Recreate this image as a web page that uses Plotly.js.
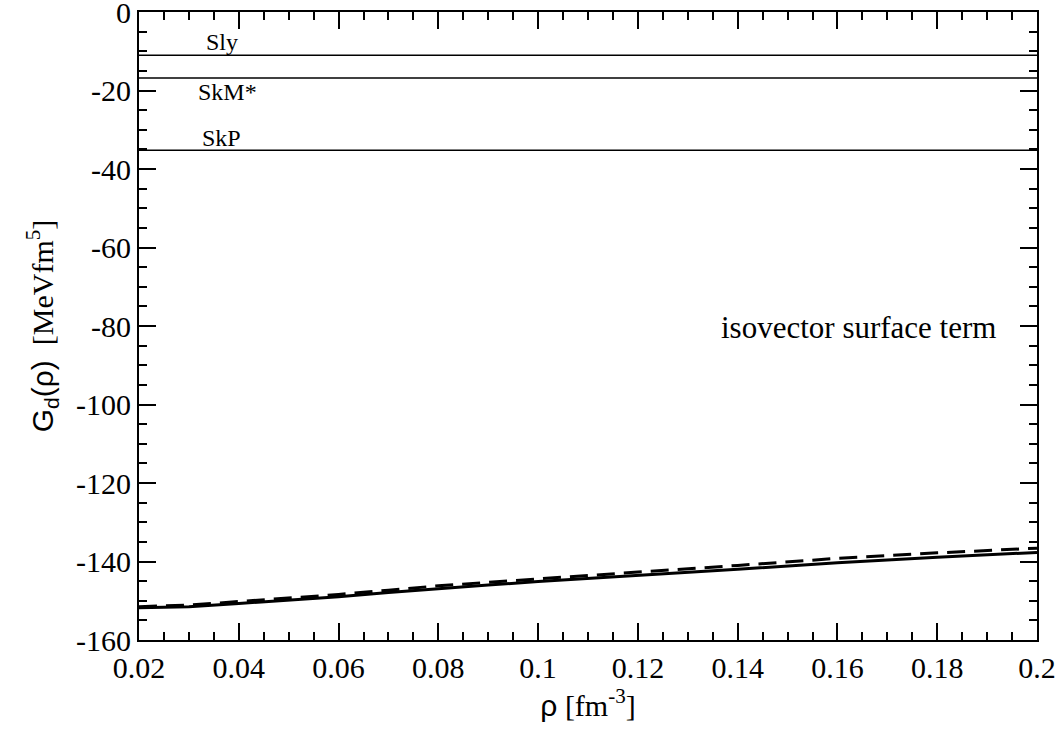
<!DOCTYPE html>
<html>
<head>
<meta charset="utf-8">
<script src="https://cdn.plot.ly/plotly-3.0.1.min.js"></script>
<style>html,body{margin:0;padding:0;background:#fff;}#chart{width:1064px;height:731px;}</style>
</head>
<body>
<div id="chart"></div>
<script>
// density rho [fm^-3]
const rho = [0.02, 0.03, 0.04, 0.05, 0.06, 0.07, 0.08, 0.09, 0.10, 0.12, 0.14, 0.16, 0.18, 0.20];
// G_d(rho) solid curve
const gdSolid = [-151.8, -151.5, -150.7, -149.8, -149.0, -147.9, -146.9, -146.0, -145.1, -143.6, -142.0, -140.3, -138.9, -137.7];
// G_d(rho) dashed curve
const gdDashed = [-151.5, -151.1, -150.2, -149.3, -148.4, -147.3, -146.2, -145.3, -144.4, -142.7, -141.0, -139.2, -137.8, -136.6];
// Skyrme constant values
const skyrmeNames = ["Sly", "SkM*", "SkP"];
const skyrmeValues = [-11.0, -16.8, -35.2];
const skyrmeLabelX = [0.0366, 0.0378, 0.0366];
const skyrmeLabelY = [-7.6, -20.4, -32.1];
const xRange = [0.02, 0.2];
const yRange = [-160, 0];
// tick labels
const xTickVals = [0.02, 0.04, 0.06, 0.08, 0.1, 0.12, 0.14, 0.16, 0.18, 0.2];
const xTickText = ["0.02", "0.04", "0.06", "0.08", "0.1", "0.12", "0.14", "0.16", "0.18", "0.2"];
const yTickVals = [0, -20, -40, -60, -80, -100, -120, -140, -160];
const yTickText = ["0", "-20", "-40", "-60", "-80", "-100", "-120", "-140", "-160"];

const serif = "Liberation Serif";
const traces = [];
skyrmeValues.forEach((v, i) => {
  traces.push({x: xRange, y: [v, v], mode: "lines", line: {color: "#000", width: 1.5}, showlegend: false, hoverinfo: "skip"});
});
traces.push({x: rho, y: gdSolid, mode: "lines", line: {color: "#000", width: 3}, showlegend: false});
traces.push({x: rho, y: gdDashed, mode: "lines", line: {color: "#000", width: 3, dash: "18px,9px"}, showlegend: false});

const annotations = skyrmeNames.map((n, i) => ({
  x: skyrmeLabelX[i], y: skyrmeLabelY[i], text: n, showarrow: false,
  font: {family: serif, size: 24, color: "#000"}, xanchor: "center", yanchor: "middle"
}));
annotations.push({x: 0.1643, y: -80.3, text: "isovector surface term", showarrow: false,
  font: {family: serif, size: 31, color: "#000"}, xanchor: "center", yanchor: "middle"});

function axisBase() {
  return {
    showgrid: false, zeroline: false, showline: true, linecolor: "#000", linewidth: 2,
    mirror: "allticks", ticks: "inside", ticklen: 17, tickwidth: 2, tickcolor: "#000",
    tickmode: "array", ticklabeloverflow: "allow",
    tickfont: {family: serif, size: 30, color: "#000"}
  };
}

const layout = {
  width: 1064, height: 731,
  margin: {l: 139, r: 27, t: 12, b: 91},
  paper_bgcolor: "#fff", plot_bgcolor: "#fff",
  font: {family: serif, color: "#000", size: 30},
  xaxis: Object.assign(axisBase(), {
    range: xRange, tickvals: xTickVals, ticktext: xTickText,
    minor: {dtick: 0.005, tick0: 0.02, ticks: "inside", ticklen: 8, tickwidth: 2, tickcolor: "#000", showgrid: false},
    title: {text: "<span style='font-family:Liberation Sans'>ρ</span> [fm<sup>-3</sup>]", font: {family: serif, size: 30, color: "#000"}, standoff: 0}
  }),
  yaxis: Object.assign(axisBase(), {
    range: yRange, tickvals: yTickVals, ticktext: yTickText,
    minor: {dtick: 5, tick0: 0, ticks: "inside", ticklen: 8, tickwidth: 2, tickcolor: "#000", showgrid: false},
    title: {text: "<span style='font-family:Liberation Sans'>G<sub>d</sub>(ρ)</span>  [MeVfm<sup>5</sup>]", font: {family: serif, size: 30, color: "#000"}, standoff: 14}
  }),
  annotations: annotations,
  showlegend: false
};

Plotly.newPlot("chart", traces, layout, {displayModeBar: false, staticPlot: true});
</script>
</body>
</html>
